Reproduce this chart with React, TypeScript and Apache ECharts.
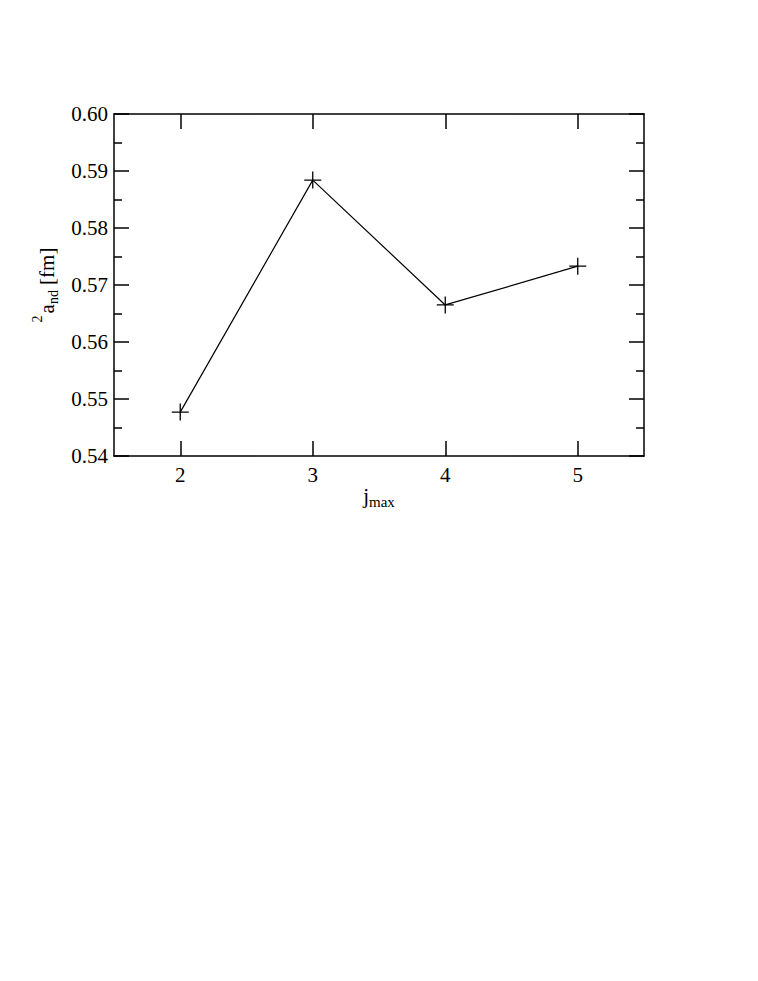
import React, { useEffect, useRef } from "react";
import * as echarts from "echarts";

const jmax = [2, 3, 4, 5];
const aValues = [0.5477, 0.5884, 0.5665, 0.5733];
const xTicks = [2, 3, 4, 5];
const yTickLabels = ["0.54", "0.55", "0.56", "0.57", "0.58", "0.59", "0.60"];

const FONT = "Liberation Serif";

export default function App() {
  const ref = useRef<HTMLDivElement>(null);
  useEffect(() => {
    if (!ref.current) return;
    const chart = echarts.init(ref.current, null, { renderer: "svg" });
    const axisLine = { show: true, lineStyle: { color: "#000", width: 1.5 } };
    const majorTick = { show: true, inside: true, length: 15, lineStyle: { color: "#000", width: 1.5 } };
    const tickRich = { t: { fontFamily: FONT, fontSize: 21, color: "#000" } };
    const data = jmax.map((x, i) => [x, aValues[i]]);
    chart.setOption({
      animation: false,
      backgroundColor: "#fff",
      textStyle: { fontFamily: FONT, color: "#000" },
      grid: { left: 114, top: 114, width: 530, height: 342, containLabel: false },
      xAxis: [
        {
          type: "value",
          min: 1.5,
          max: 5.5,
          position: "bottom",
          axisLine,
          axisTick: { ...majorTick, customValues: xTicks },
          axisLabel: {
            customValues: xTicks,
            fontFamily: FONT,
            fontSize: 21,
            margin: 8,
            formatter: (v: number) => "{t|" + String(v) + "}",
            rich: tickRich,
          },
          splitLine: { show: false },
          name: "{m|j}{s|max}",
          nameLocation: "middle",
          nameGap: 25,
          nameTextStyle: {
            fontFamily: FONT,
            rich: {
              m: { fontFamily: FONT, fontSize: 21, color: "#000" },
              s: { fontFamily: FONT, fontSize: 15, color: "#000", padding: [12, 0, 0, 0] },
            },
          },
        },
        {
          type: "value",
          min: 1.5,
          max: 5.5,
          position: "top",
          axisLine,
          axisTick: { ...majorTick, customValues: xTicks },
          axisLabel: { show: false },
          splitLine: { show: false },
        },
      ],
      yAxis: [
        {
          type: "value",
          min: 0.54,
          max: 0.6,
          interval: 0.01,
          position: "left",
          axisLine,
          axisTick: majorTick,
          minorTick: { show: true, splitNumber: 2, length: 8, lineStyle: { color: "#000", width: 1.5 } },
          axisLabel: {
            fontFamily: FONT,
            fontSize: 21,
            margin: 6,
            formatter: (v: number) =>
              "{t|" + (yTickLabels[Math.round((v - 0.54) * 100)] ?? v.toFixed(2)) + "}",
            rich: tickRich,
          },
          splitLine: { show: false },
          name: "{sup|2}{m|a}{sub|nd}{m| [fm]}",
          nameLocation: "middle",
          nameGap: 50,
          nameRotate: 90,
          nameTextStyle: {
            fontFamily: FONT,
            rich: {
              sup: { fontFamily: FONT, fontSize: 14, color: "#000", padding: [0, 2, 20, 0] },
              m: { fontFamily: FONT, fontSize: 21, color: "#000" },
              sub: { fontFamily: FONT, fontSize: 14, color: "#000", padding: [12, 0, 0, 0] },
            },
          },
        },
        {
          type: "value",
          min: 0.54,
          max: 0.6,
          interval: 0.01,
          position: "right",
          axisLine,
          axisTick: majorTick,
          minorTick: { show: true, splitNumber: 2, length: 8, lineStyle: { color: "#000", width: 1.5 } },
          axisLabel: { show: false },
          splitLine: { show: false },
        },
      ],
      series: [
        {
          type: "line",
          data,
          xAxisIndex: 0,
          yAxisIndex: 0,
          symbol: "path://M8,0L8,16M0,8L16,8",
          symbolSize: 17,
          showSymbol: true,
          lineStyle: { color: "#000", width: 1.2 },
          itemStyle: { color: "none", borderColor: "#000", borderWidth: 1.3 },
        },
      ],
    });
    return () => chart.dispose();
  }, []);
  return (
    <div
      ref={ref}
      style={{ position: "fixed", left: 0, top: 0, width: 758, height: 981 }}
    />
  );
}
